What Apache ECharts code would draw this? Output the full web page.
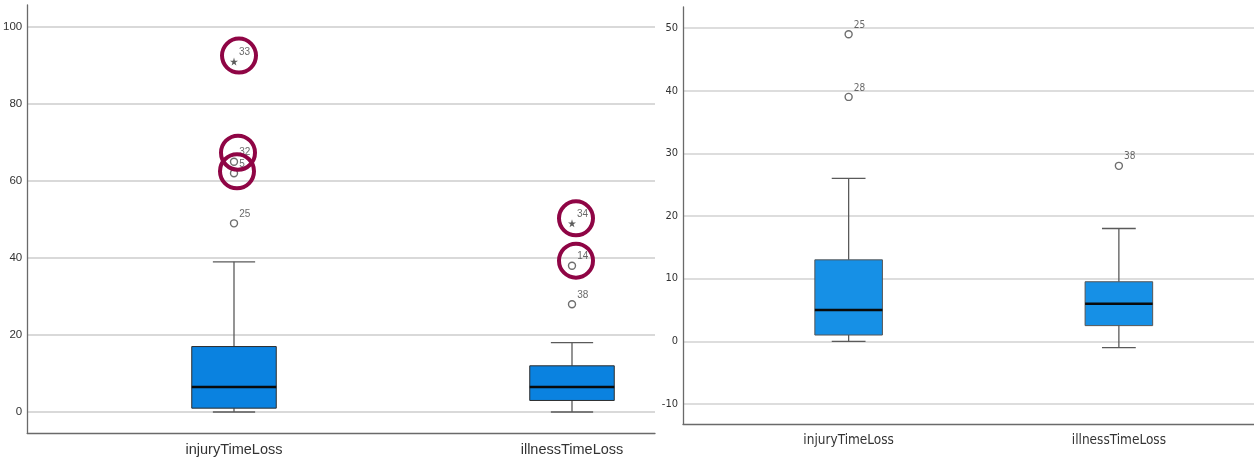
<!DOCTYPE html>
<html>
<head>
<meta charset="utf-8">
<script src="https://cdn.jsdelivr.net/npm/echarts@6/dist/echarts.min.js"></script>
<style>
  html, body { margin: 0; padding: 0; background: #fff; }
  #chart { width: 1254px; height: 459px; }
</style>
</head>
<body>
<div id="chart"></div>
<script>
// categories
var categories = ['injuryTimeLoss', 'illnessTimeLoss'];

// left plot: [min, Q1, median, Q3, max] per category
var leftBoxes = [[0, 1, 6.5, 17, 39], [0, 3, 6.5, 12, 18]];
// left outliers (circles): [category index, value, case number]
var leftOutliers = [[0, 49, '25'], [0, 62, '5'], [0, 65, '32'], [1, 28, '38'], [1, 38, '14']];
// left extremes (stars)
var leftExtremes = [[0, 91, '33'], [1, 49, '34']];
// case numbers ringed in red
var ringedCases = ['33', '32', '5', '34', '14'];

// right plot
var rightBoxes = [[0, 1, 5, 13, 26], [-1, 2.5, 6, 9.5, 18]];
var rightOutliers = [[0, 49, '25'], [0, 39, '28'], [1, 28, '38']];

// y ranges
var leftYRange = [-5.45, 105.7];
var rightYRange = [-13.2, 53.35];

// ring placement relative to the marker (px)
var ringOffsets = { '33': [5, -6], '32': [4, -9], '5': [3, -2], '34': [4, -5], '14': [4, -5] };

var starPath = 'path://M50,0 L61,35 L98,35 L68,57 L79,91 L50,70 L21,91 L32,57 L2,35 L39,35 Z';
var narrowFont = '"Liberation Sans Narrow", "DejaVu Sans Condensed", "Liberation Sans", sans-serif';
var normalFont = '"Liberation Sans", Arial, sans-serif';

function boxRenderer(fill, border) {
  return function (params, api) {
    var c = api.value(0);
    var bw = api.size([1, 0])[0] * 0.25;
    var p = [1, 2, 3, 4, 5].map(function (i) { return api.coord([c, api.value(i)]); });
    var x = p[0][0];
    function ln(x1, y1, x2, y2, color, w) {
      return { type: 'line', shape: { x1: x1, y1: y1, x2: x2, y2: y2 }, style: { stroke: color, lineWidth: w } };
    }
    return {
      type: 'group',
      children: [
        ln(x, p[4][1], x, p[3][1], '#5a5a5a', 1.3),
        ln(x, p[1][1], x, p[0][1], '#5a5a5a', 1.3),
        ln(x - bw / 4, p[4][1], x + bw / 4, p[4][1], '#5a5a5a', 1.3),
        ln(x - bw / 4, p[0][1], x + bw / 4, p[0][1], '#5a5a5a', 1.3),
        { type: 'rect', shape: { x: x - bw / 2, y: p[3][1], width: bw, height: p[1][1] - p[3][1] },
          style: { fill: fill, stroke: border, lineWidth: 1 } },
        ln(x - bw / 2, p[2][1], x + bw / 2, p[2][1], '#0a0a0a', 2.5)
      ]
    };
  };
}

function boxData(boxes) {
  return boxes.map(function (b, i) { return [i].concat(b); });
}

function pointLabel(font) {
  return {
    show: true,
    position: 'right',
    distance: 0,
    offset: [1, -9],
    fontSize: 10,
    fontFamily: font,
    color: '#444',
    formatter: function (p) { return p.data[2]; }
  };
}

function ringData(list) {
  return list.filter(function (d) { return ringedCases.indexOf(d[2]) >= 0; }).map(function (d) {
    return { value: d, symbolOffset: ringOffsets[d[2]] };
  });
}

var chart = echarts.init(document.getElementById('chart'), null, { renderer: 'canvas' });

var option = {
  backgroundColor: '#fff',
  animation: false,
  grid: [
    { left: 27, top: 5, width: 628, height: 428 },
    { left: 65, top: 5, width: 676, height: 428 },
    { left: 683, top: 7, width: 571, height: 417 },
    { left: 713.5, top: 7, width: 558, height: 417 }
  ],
  xAxis: [
    { gridIndex: 0, type: 'category', data: [],
      axisLine: { onZero: false, lineStyle: { color: '#6a6a6a', width: 1.3 } },
      axisTick: { show: false }, axisLabel: { show: false } },
    { gridIndex: 1, type: 'category', data: categories, boundaryGap: true,
      axisLine: { show: false, onZero: false }, axisTick: { show: false },
      axisLabel: { margin: 9, fontSize: 14.5, color: '#333', fontFamily: normalFont } },
    { gridIndex: 2, type: 'category', data: [],
      axisLine: { onZero: false, lineStyle: { color: '#6a6a6a', width: 1.3 } },
      axisTick: { show: false }, axisLabel: { show: false } },
    { gridIndex: 3, type: 'category', data: categories, boundaryGap: true,
      axisLine: { show: false, onZero: false }, axisTick: { show: false },
      axisLabel: { margin: 9, fontSize: 13.5, color: '#333', fontFamily: narrowFont } }
  ],
  yAxis: [
    { gridIndex: 0, type: 'value', min: leftYRange[0], max: leftYRange[1],
      axisLine: { show: true, lineStyle: { color: '#6a6a6a', width: 1.3 } }, axisTick: { show: false },
      axisLabel: { showMinLabel: false, showMaxLabel: false, margin: 5, fontSize: 11.5, color: '#333', fontFamily: normalFont },
      splitLine: { show: true, showMinLine: false, showMaxLine: false, lineStyle: { color: '#d9d9d9', width: 2 } } },
    { gridIndex: 1, type: 'value', min: leftYRange[0], max: leftYRange[1], show: false },
    { gridIndex: 2, type: 'value', min: rightYRange[0], max: rightYRange[1],
      axisLine: { show: true, lineStyle: { color: '#6a6a6a', width: 1.3 } }, axisTick: { show: false },
      axisLabel: { showMinLabel: false, showMaxLabel: false, margin: 5, fontSize: 11, color: '#333', fontFamily: narrowFont },
      splitLine: { show: true, showMinLine: false, showMaxLine: false, lineStyle: { color: '#d2d2d2', width: 1.6 } } },
    { gridIndex: 3, type: 'value', min: rightYRange[0], max: rightYRange[1], show: false }
  ],
  series: [
    { type: 'custom', xAxisIndex: 1, yAxisIndex: 1, data: boxData(leftBoxes),
      encode: { x: 0, y: [1, 2, 3, 4, 5] }, renderItem: boxRenderer('#0a82e0', '#2c2c2c'), z: 2 },
    { type: 'scatter', xAxisIndex: 1, yAxisIndex: 1, data: leftOutliers, symbol: 'circle', symbolSize: 7,
      itemStyle: { color: '#fff', borderColor: '#4a4a4a', borderWidth: 1.4 },
      label: pointLabel(normalFont), z: 3 },
    { type: 'scatter', xAxisIndex: 1, yAxisIndex: 1, data: leftExtremes, symbol: starPath, symbolSize: 8,
      itemStyle: { color: '#333' }, label: pointLabel(normalFont), z: 3 },
    { type: 'scatter', xAxisIndex: 1, yAxisIndex: 1, data: ringData(leftOutliers.concat(leftExtremes)),
      symbol: 'circle', symbolSize: 34, silent: true,
      itemStyle: { color: 'rgba(0,0,0,0)', borderColor: '#8f0545', borderWidth: 4, opacity: 1 }, z: 5 },
    { type: 'custom', xAxisIndex: 3, yAxisIndex: 3, data: boxData(rightBoxes),
      encode: { x: 0, y: [1, 2, 3, 4, 5] }, renderItem: boxRenderer('#1690e6', '#555'), z: 2 },
    { type: 'scatter', xAxisIndex: 3, yAxisIndex: 3, data: rightOutliers, symbol: 'circle', symbolSize: 7,
      itemStyle: { color: '#fff', borderColor: '#4a4a4a', borderWidth: 1.4 },
      label: pointLabel(narrowFont), z: 3 }
  ]
};

chart.setOption(option);
</script>
</body>
</html>
